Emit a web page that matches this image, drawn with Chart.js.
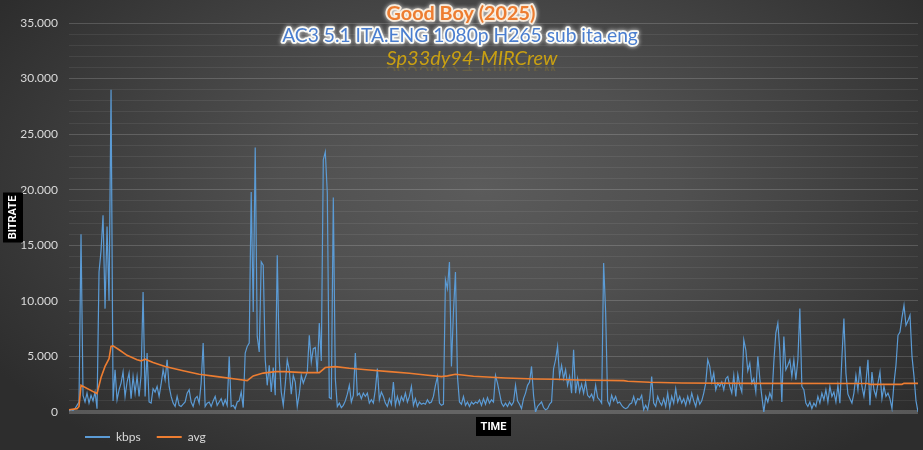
<!DOCTYPE html>
<html><head><meta charset="utf-8">
<script src="https://cdn.jsdelivr.net/npm/chart.js@4.4.1/dist/chart.umd.min.js"></script>
<style>
html,body{margin:0;padding:0;width:923px;height:450px;overflow:hidden;}
body{background:radial-gradient(ellipse 62% 75% at 52% 42%, #5b5b5b 0%, #505050 35%, #404040 65%, #2d2d2d 100%);}
#wrap{position:relative;width:923px;height:450px;}
</style></head><body><div id="wrap"><canvas id="c" width="923" height="450"></canvas></div>
<script>
const titleLines = ["Good Boy (2025)", "AC3 5.1 ITA.ENG 1080p H265 sub ita.eng", "Sp33dy94-MIRCrew"];
const axisTitles = { x: "TIME", y: "BITRATE" };
const seriesNames = ["kbps", "avg"];
const yTickStep = 1000, yLabelStep = 5000, yMax = 35000;

const kbps = [
100,200,150,300,600,900,16000,1500,900,1700,800,1500,1000,1800,300,
12600,14500,17700,9300,16700,10000,29000,
1000,3800,1100,2000,2600,3600,1400,2700,3500,1200,3200,1700,3200,1400,3300,10800,1400,5300,
900,800,2100,1800,2300,1400,2500,3800,2900,4700,2300,1400,800,500,1400,600,500,700,900,1700,
2000,900,500,1200,1400,800,2600,6200,500,800,900,500,1000,1400,600,900,1200,600,1100,600,
5000,500,600,300,900,
1000,1800,400,5300,5900,6200,19800,9000,23800,6800,5400,13500,13200,4700,2400,4200,1800,4000,1500,14100,
4700,1800,600,2500,4700,3800,1600,3300,2700,500,1600,3300,2600,3100,3600,6900,4500,5700,5800,3500,
8000,4600,22700,23400,19700,1300,1200,19300,3000,500,800,400,600,1000,1600,2400,900,1500,5300,1500,
1700,1200,1700,1400,1700,800,1100,800,2000,3900,1100,1800,1400,800,500,1200,700,2700,600,1400,
700,1400,1000,1700,900,
1400,2300,600,1200,500,900,700,800,700,1100,800,900,1400,2400,3200,800,600,700,11900,11100,
13500,4100,9000,12600,3200,900,700,1400,600,900,500,900,700,900,800,1100,600,1200,700,1300,
800,1100,900,3300,2600,1700,800,500,800,500,900,600,900,2400,1000,700,300,1200,1700,2400,
2700,4100,1500,0,500,700,900,400,200,300,700,900,3900,4700,5900,3200,4200,3000,3800,2400,
3200,1700,5600,1700,3000,
1800,2500,1700,2700,1500,1300,1600,1100,2400,1300,1100,800,13400,9000,1000,600,1500,1000,1400,800,
900,600,400,300,400,700,800,1400,700,1200,1100,1500,200,600,200,1200,3200,800,500,1400,
900,600,1200,500,1700,400,1400,800,2100,900,1400,800,1200,600,1400,800,1700,1000,500,1400,
700,1000,1700,2600,4700,4100,2700,3500,2000,2600,2300,2700,2000,3000,3200,2300,1700,3300,1400,3400,
2400,1800,6500,5600,3700,
4400,2600,3000,1800,5000,3000,1400,0,1400,900,1700,1200,4500,7100,8000,5500,900,6800,3800,4200,
4700,3200,4700,2900,4700,9300,2300,2000,800,500,900,300,800,500,1400,800,1700,1100,2000,900,
2300,1400,1800,900,2400,800,4900,8400,3500,1600,1200,800,1700,3300,2000,4100,2300,1400,2700,4700,
600,3600,2000,1400,2600,3600,1200,2300,1400,1700,1200,300,2600,4200,6900,7200,8500,9600,7800,8200,
8700,5000,3200,1000,0
];

const avgIdx = [0,4,5,6,14,16,18,20,21,22,25,29,34,36,38,42,48,57,65,74,84,89,92,97,103,108,117,125,128,133,140,150,160,170,178,186,189,193,202,218,233,243,254,277,279,290,306,340,399,400,416,417,424];
const avgVal = [200,300,500,2400,1650,3100,4100,4800,5900,5950,5600,5100,4700,4600,4750,4450,4100,3720,3400,3180,2940,2820,3240,3500,3630,3630,3540,3540,4000,4080,3930,3780,3630,3480,3330,3180,3250,3390,3210,3060,2970,2940,2880,2820,2760,2670,2610,2580,2570,2490,2490,2580,2580];

const fmt = v => String(v).replace(/\B(?=(\d{3})+(?!\d))/g, '.');

function fitFont(ctx, style, family, text, target, base) {
  ctx.font = style + ' ' + base + 'px ' + family;
  const w = ctx.measureText(text).width;
  return base * target / w;
}

const decor = {
  id: 'decor',
  afterDraw(chart) {
    const ctx = chart.ctx;
    const ca = chart.chartArea;
    ctx.save();
    ctx.textAlign = 'center';
    ctx.textBaseline = 'middle';
    ctx.lineJoin = 'round';
    let s = fitFont(ctx, 'bold', 'Lato', titleLines[0], 149, 18);
    ctx.font = 'bold ' + s + 'px Lato';
    ctx.shadowColor = 'rgba(255,255,255,0.9)'; ctx.shadowBlur = 4;
    ctx.strokeStyle = 'rgba(252,240,225,0.95)'; ctx.lineWidth = 3.5;
    ctx.strokeText(titleLines[0], 461, 14);
    ctx.shadowBlur = 0;
    ctx.fillStyle = '#ED7D31';
    ctx.fillText(titleLines[0], 461, 14);
    s = fitFont(ctx, '', 'Lato', titleLines[1], 356, 19);
    ctx.font = s + 'px Lato';
    ctx.shadowColor = 'rgba(255,255,255,0.9)'; ctx.shadowBlur = 4;
    ctx.strokeStyle = 'rgba(255,255,250,0.95)'; ctx.lineWidth = 3.5;
    ctx.strokeText(titleLines[1], 460, 36);
    ctx.shadowBlur = 0;
    ctx.fillStyle = '#4A7ED0';
    ctx.fillText(titleLines[1], 460, 36);
    s = fitFont(ctx, 'italic', 'Lato', titleLines[2], 171, 19);
    ctx.font = 'italic ' + s + 'px Lato';
    ctx.textBaseline = 'alphabetic';
    const by = 65;
    ctx.save();
    ctx.beginPath(); ctx.rect(360, by, 230, 6); ctx.clip();
    ctx.translate(0, 2 * by + 1); ctx.scale(1, -1);
    ctx.globalAlpha = 0.2;
    ctx.fillStyle = '#C9A012';
    ctx.fillText(titleLines[2], 472, by);
    ctx.restore();
    ctx.fillStyle = '#C9A012';
    ctx.fillText(titleLines[2], 472, by);
    ctx.restore();

    const cx = (ca.left + ca.right) / 2;
    const cy = (ca.top + ca.bottom) / 2;
    ctx.save();
    ctx.fillStyle = '#000';
    ctx.fillRect(3, cy - 25, 20, 50);
    ctx.fillRect(cx - 17.5, 417, 35, 19);
    ctx.fillStyle = '#fff';
    ctx.textAlign = 'center';
    ctx.textBaseline = 'middle';
    ctx.font = 'bold 11px Roboto';
    ctx.fillText(axisTitles.x, cx, 427);
    ctx.translate(13.5, cy);
    ctx.rotate(-Math.PI / 2);
    ctx.fillText(axisTitles.y, 0, 0);
    ctx.restore();
  }
};

new Chart(document.getElementById('c'), {
  type: 'line',
  data: {
    datasets: [
      { label: seriesNames[0], data: kbps.map((v, i) => ({ x: i, y: v })),
        borderColor: '#5B9BD5', backgroundColor: '#5B9BD5', borderWidth: 1.2,
        pointRadius: 0, tension: 0, order: 1 },
      { label: seriesNames[1], data: avgIdx.map((x, k) => ({ x: x, y: avgVal[k] })),
        borderColor: '#ED7D31', backgroundColor: '#ED7D31', borderWidth: 1.6,
        pointRadius: 0, tension: 0, order: 0 }
    ]
  },
  options: {
    responsive: false,
    animation: false,
    devicePixelRatio: 1,
    layout: { padding: { left: 0, right: 5, top: 23, bottom: -3 } },
    scales: {
      x: {
        type: 'linear', min: 0, max: kbps.length - 1,
        display: true,
        grid: { display: false, drawTicks: false },
        border: { display: false },
        ticks: { display: false },
        afterFit(scale) { scale.height = 3; }
      },
      y: {
        min: 0, max: yMax,
        border: { display: false },
        grid: {
          drawTicks: false,
          color: c => c.tick.value === 0 ? 'rgba(170,170,170,0.35)' : (c.tick.value % yLabelStep === 0 ? 'rgba(255,255,255,0.17)' : 'rgba(255,255,255,0.07)'),
          lineWidth: c => c.tick.value === 0 ? 4 : 1
        },
        ticks: {
          stepSize: yTickStep,
          padding: 11,
          color: '#d9d9d9',
          font: { family: 'Lato', size: 12 },
          autoSkip: false,
          callback: v => (v % yLabelStep === 0 ? fmt(v) : '')
        },
        afterFit(scale) { scale.width = 69; }
      }
    },
    plugins: {
      legend: {
        position: 'bottom', align: 'start', fullSize: false,
        labels: {
          boxWidth: 25, boxHeight: 2, padding: 16,
          color: '#d9d9d9', font: { family: 'Lato', size: 12 },
          generateLabels: chart => chart.data.datasets.map((ds, i) => ({
            text: ds.label, fillStyle: ds.borderColor, strokeStyle: ds.borderColor,
            lineWidth: 0, datasetIndex: i, hidden: false, fontColor: '#d9d9d9'
          }))
        }
      },
      title: { display: false },
      tooltip: { enabled: false }
    }
  },
  plugins: [decor]
});
</script>
</body></html>
